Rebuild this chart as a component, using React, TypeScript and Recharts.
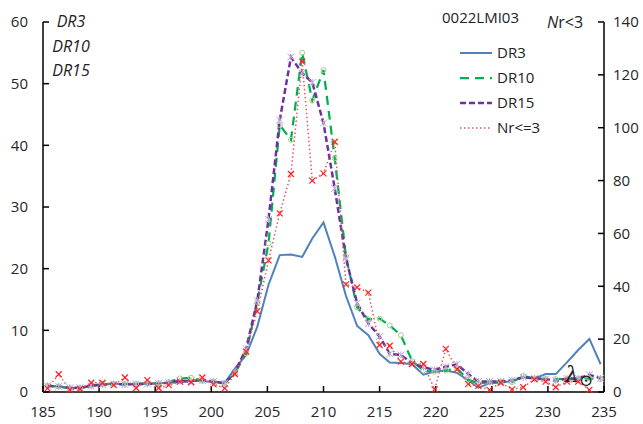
import React from "react";
import { LineChart, Line, XAxis, YAxis } from "recharts";

// solar longitude of each day (deg)
const lambdaSun = [
  185.4, 186.4, 187.4, 188.3, 189.3, 190.3, 191.3, 192.3, 193.3, 194.3, 195.3,
  196.2, 197.2, 198.2, 199.2, 200.2, 201.2, 202.1, 203.1, 204.1, 205.1, 206.1,
  207.1, 208.1, 209.0, 210.0, 211.0, 212.0, 213.0, 214.0, 215.0, 215.9, 216.9,
  217.9, 218.9, 219.9, 220.9, 221.9, 222.9, 223.8, 224.8, 225.8, 226.8, 227.8,
  228.8, 229.8, 230.7, 231.7, 232.7, 233.7, 234.7,
];

const dr3 = [
  1.0, 0.9, 0.6, 0.7, 1.0, 1.2, 1.3, 1.3, 1.3, 1.3, 1.4, 1.5, 1.6, 1.8, 1.8, 1.6, 1.5,
  3.8, 6.0, 10.6, 17.4, 22.2, 22.3, 21.9,
  24.9, 27.5, 22.0, 15.6, 10.7, 9.2, 6.2,
  4.8, 4.7, 4.5, 2.8, 3.3, 3.5, 3.1, 1.9,
  0.7, 1.4, 1.5, 1.8, 2.4, 2.2, 2.9,
  2.9, 4.8, 6.8, 8.6, 4.5,
];

const dr10 = [
  1.0, 0.9, 0.6, 0.6, 1.0, 1.3, 1.3, 1.3, 1.3, 1.4, 1.4, 1.6, 2.2, 2.3, 1.8, 1.7, 1.5,
  3.0, 6.3, 14.6, 24.1, 43.3, 40.9, 55.0,
  47.3, 52.2, 37.9, 22.0, 13.7, 11.8, 11.9,
  10.8, 9.2, 5.0, 3.5, 3.3, 3.5, 3.8, 2.0,
  1.4, 1.6, 1.7, 1.6, 2.6, 2.2, 2.1,
  2.1, 2.1, 2.1, 2.2, 2.1,
];

const dr15 = [
  1.0, 0.9, 0.7, 0.7, 1.0, 1.2, 1.3, 1.2, 1.3, 1.3, 1.4, 1.5, 1.8, 1.8, 1.9, 1.7, 1.4,
  3.2, 7.0, 14.8, 28.0, 44.1, 54.3, 51.7,
  50.2, 43.6, 33.0, 21.7, 14.4, 11.1, 9.0,
  6.2, 6.0, 4.7, 4.0, 3.6, 4.1, 4.5, 2.9,
  1.7, 1.7, 1.7, 1.9, 2.4, 2.2, 2.1,
  1.8, 2.2, 2.2, 2.8, 2.2,
];

// right axis
const nr3 = [
  1.4, 6.7, 0.8, 1.2, 3.5, 3.5, 2.6, 5.5, 1.5, 4.5, 1.5, 2.6, 3.9, 3.7, 5.5, 2.9, 1.4,
  6.8, 15.3, 30.6, 49.8, 67.6, 82.5, 125,
  80, 82.7, 94.7, 40.7, 39.6, 37.6, 17.8,
  17.5, 11.5, 10.6, 10.6, 1.0, 16.3, 8.6, 3.0,
  2.3, 0.8, 3.5, 1.0, 1.8, 4.8, 3.9,
  1.8, 3.9, 3.9, 0.8, null,
];

const xTicks = [185, 190, 195, 200, 205, 210, 215, 220, 225, 230, 235];
const leftTicks = [0, 10, 20, 30, 40, 50, 60];
const rightTicks = [0, 20, 40, 60, 80, 100, 120, 140];

const data = lambdaSun.map((l, i) => ({
  l,
  dr3: dr3[i],
  dr10: dr10[i],
  dr15: dr15[i],
  nr3: nr3[i],
}));

const font = "'Open Sans', sans-serif";
const tickStyle = { fontSize: 15, fill: "#262626", fontFamily: font };

const series = [
  { key: "dr3", name: "DR3", stroke: "#4f81bd", width: 2, dash: undefined },
  { key: "dr10", name: "DR10", stroke: "#00b050", width: 2.25, dash: "9 6" },
  { key: "dr15", name: "DR15", stroke: "#7030a0", width: 2.5, dash: "6 3" },
  { key: "nr3", name: "Nr<=3", stroke: "#e05a5a", width: 1.5, dash: "1.5 2.5" },
];

const CircleDot = (props: any) => {
  const { cx, cy, index } = props;
  if (cx == null || cy == null) return <g key={index} />;
  return <circle key={index} cx={cx} cy={cy} r={2.5} fill="none" stroke="#a6d08a" strokeWidth={1} />;
};

const StarDot = (props: any) => {
  const { cx, cy, index } = props;
  if (cx == null || cy == null) return <g key={index} />;
  const r = 3.5;
  return (
    <path
      key={index}
      d={`M${cx - r},${cy - r}L${cx + r},${cy + r}M${cx - r},${cy + r}L${cx + r},${cy - r}M${cx},${cy - r}L${cx},${cy + r}`}
      stroke="#b9a6d6"
      strokeWidth={1}
    />
  );
};

const CrossDot = (props: any) => {
  const { cx, cy, index } = props;
  if (cx == null || cy == null) return <g key={index} />;
  const r = 3;
  return (
    <path
      key={index}
      d={`M${cx - r},${cy - r}L${cx + r},${cy + r}M${cx - r},${cy + r}L${cx + r},${cy - r}`}
      stroke="#ff2020"
      strokeWidth={1.2}
    />
  );
};

const LegendBox = () => (
  <svg width={110} height={100} style={{ position: "absolute", left: 455, top: 40 }}>
    {series.map((s, i) => {
      const y = 13 + i * 25;
      return (
        <g key={s.key}>
          <line x1={5} x2={37} y1={y} y2={y} stroke={s.stroke} strokeWidth={s.width} strokeDasharray={s.dash} />
          <text x={42} y={y} dy="0.35em" fontSize={15} fill="#222" fontFamily={font}>
            {s.name}
          </text>
        </g>
      );
    })}
  </svg>
);

const abs = (left: number, top: number, extra: any = {}) => ({
  position: "absolute" as const,
  left,
  top,
  fontFamily: font,
  color: "#222",
  lineHeight: 1,
  whiteSpace: "nowrap" as const,
  ...extra,
});

const axisStroke = { stroke: "#000", strokeWidth: 1.5 };

export default function App() {
  return (
    <div style={{ position: "absolute", left: 0, top: 0, width: 643, height: 424, background: "#fff" }}>
      <LineChart width={643} height={424} data={data} margin={{ top: 22, right: 0, bottom: 0, left: 0 }}>
        <XAxis
          dataKey="l"
          type="number"
          domain={[185, 235]}
          ticks={xTicks}
          height={32}
          tickSize={-6}
          tickMargin={20}
          tick={tickStyle}
          axisLine={axisStroke}
          tickLine={axisStroke}
        />
        <YAxis
          yAxisId="left"
          domain={[0, 60]}
          ticks={leftTicks}
          width={43}
          tickSize={-6}
          tickMargin={21}
          tick={tickStyle}
          axisLine={axisStroke}
          tickLine={axisStroke}
        />
        <YAxis
          yAxisId="right"
          orientation="right"
          domain={[0, 140]}
          ticks={rightTicks}
          width={39}
          tickSize={-6}
          tickMargin={15}
          tick={tickStyle}
          axisLine={axisStroke}
          tickLine={axisStroke}
        />
        <Line
          yAxisId="left"
          dataKey="dr3"
          name="DR3"
          type="linear"
          stroke={series[0].stroke}
          strokeWidth={series[0].width}
          dot={false}
          isAnimationActive={false}
        />
        <Line
          yAxisId="left"
          dataKey="dr10"
          name="DR10"
          type="linear"
          stroke={series[1].stroke}
          strokeWidth={series[1].width}
          strokeDasharray={series[1].dash}
          dot={CircleDot}
          isAnimationActive={false}
        />
        <Line
          yAxisId="left"
          dataKey="dr15"
          name="DR15"
          type="linear"
          stroke={series[2].stroke}
          strokeWidth={series[2].width}
          strokeDasharray={series[2].dash}
          dot={StarDot}
          isAnimationActive={false}
        />
        <Line
          yAxisId="right"
          dataKey="nr3"
          name="Nr<=3"
          type="linear"
          stroke={series[3].stroke}
          strokeWidth={series[3].width}
          strokeDasharray={series[3].dash}
          dot={CrossDot}
          isAnimationActive={false}
        />
      </LineChart>
      <LegendBox />
      <div style={abs(48, 13, { width: 46, textAlign: "center", fontStyle: "italic", fontSize: 16 })}>
        <div style={{ height: 24.5 }}>DR3</div>
        <div style={{ height: 24.5 }}>DR10</div>
        <div>DR15</div>
      </div>
      <div style={abs(442, 10, { fontSize: 15 })}>0022LMI03</div>
      <div style={abs(547, 14, { fontSize: 16 })}>
        <span style={{ fontStyle: "italic" }}>N</span>r&lt;3
      </div>
      <div style={abs(565, 364, { fontFamily: "'DejaVu Serif', serif", fontStyle: "italic", fontSize: 22 })}>
        λ<span style={{ fontSize: 17, fontStyle: "normal", position: "relative", top: 4 }}>⊙</span>
      </div>
    </div>
  );
}
